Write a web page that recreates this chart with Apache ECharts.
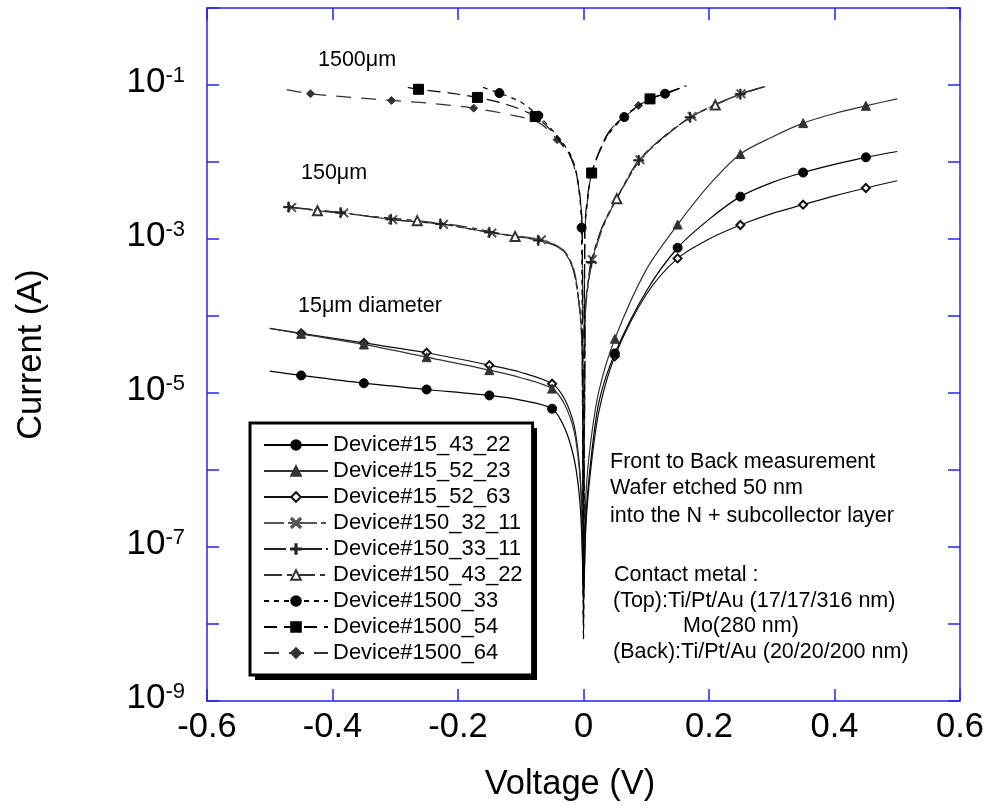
<!DOCTYPE html>
<html><head><meta charset="utf-8">
<script src="https://cdn.jsdelivr.net/npm/echarts/dist/echarts.min.js"></script>
<style>html,body{margin:0;padding:0;background:#fff}#c{width:989px;height:807px}</style>
</head><body><div id="c"></div>
<script>
const FONT = '"Liberation Sans", Arial, Helvetica, sans-serif';
const AX = '#2424f0';

// ---- Data (Voltage in V, Current in A); M = indices of points carrying a marker ----
const d15_43_22_V = [-0.5,-0.45,-0.35,-0.25,-0.15,-0.1,-0.05,-0.03,-0.015,-0.007,-0.003,0,0.004,0.012,0.025,0.05,0.1,0.15,0.2,0.25,0.3,0.35,0.4,0.45,0.5];
const d15_43_22_I = [1.92e-5,1.69e-5,1.34e-5,1.11e-5,9.3e-6,8.1e-6,6.25e-6,3.5e-6,1.4e-6,5.0e-7,1.6e-7,2.5e-8,2.5e-7,1.4e-6,7.9e-6,3.27e-5,2.1e-4,7.7e-4,1.8e-3,3.55e-3,5.4e-3,7.3e-3,9.3e-3,1.15e-2,1.37e-2];
const d15_43_22_M = [1,2,3,4,6,15,17,19,21,23];

const d15_52_23_V = [-0.5,-0.45,-0.35,-0.25,-0.15,-0.1,-0.05,-0.03,-0.015,-0.007,-0.003,0,0.004,0.012,0.025,0.05,0.1,0.15,0.2,0.25,0.3,0.35,0.4,0.45,0.5];
const d15_52_23_I = [6.9e-5,5.87e-5,4.27e-5,2.92e-5,1.98e-5,1.58e-5,1.14e-5,7.1e-6,3.2e-6,1.1e-6,3.2e-7,3.2e-8,5.0e-7,2.5e-6,1.1e-5,5.06e-5,4.0e-4,1.54e-3,5.0e-3,1.27e-2,2.1e-2,3.2e-2,4.27e-2,5.37e-2,6.62e-2];
const d15_52_23_M = [1,2,3,4,6,15,17,19,21,23];

const d15_52_63_V = [-0.5,-0.45,-0.35,-0.25,-0.15,-0.1,-0.05,-0.03,-0.015,-0.007,-0.003,0,0.004,0.012,0.025,0.05,0.1,0.15,0.2,0.25,0.3,0.35,0.4,0.45,0.5];
const d15_52_63_I = [6.9e-5,5.96e-5,4.47e-5,3.33e-5,2.3e-5,1.86e-5,1.32e-5,8.3e-6,3.8e-6,1.26e-6,3.5e-7,2.0e-8,2.0e-7,1.1e-6,6.0e-6,3.0e-5,1.9e-4,5.6e-4,1.0e-3,1.52e-3,2.14e-3,2.79e-3,3.63e-3,4.6e-3,5.71e-3];
const d15_52_63_M = [1,2,3,4,6,15,17,19,21,23];

const d150_32_11_V = [-0.465,-0.382,-0.304,-0.223,-0.146,-0.067,-0.032,-0.016,-0.008,-0.004,-0.002,0,0.003,0.007,0.014,0.03,0.053,0.09,0.13,0.173,0.21,0.251,0.288];
const d150_32_11_I = [2.57e-3,2.18e-3,1.78e-3,1.55e-3,1.2e-3,9.8e-4,7.2e-4,4.2e-4,1.78e-4,7.9e-5,3.2e-5,2.5e-8,1.12e-4,2.5e-4,5.4e-4,1.41e-3,3.34e-3,1.07e-2,2.19e-2,3.9e-2,5.5e-2,7.7e-2,9.55e-2];
const d150_32_11_M = [0,1,2,3,4,5,14,17,19,21];

const d150_33_11_V = [-0.47,-0.387,-0.307,-0.228,-0.15,-0.072,-0.035,-0.018,-0.009,-0.004,-0.002,0,0.003,0.007,0.012,0.03,0.053,0.088,0.13,0.17,0.21,0.25,0.285];
const d150_33_11_I = [2.6e-3,2.2e-3,1.8e-3,1.57e-3,1.22e-3,9.6e-4,7.4e-4,4.4e-4,1.9e-4,8.5e-5,3.5e-5,2.8e-8,1.2e-4,2.7e-4,5.0e-4,1.45e-3,3.4e-3,1.05e-2,2.2e-2,3.8e-2,5.6e-2,7.6e-2,9.4e-2];
const d150_33_11_M = [0,1,2,3,4,5,14,17,19,21];

const d150_43_22_V = [-0.475,-0.424,-0.345,-0.265,-0.19,-0.109,-0.06,-0.032,-0.016,-0.008,-0.004,-0.002,0,0.003,0.007,0.014,0.03,0.053,0.09,0.13,0.17,0.21,0.25,0.29];
const d150_43_22_I = [2.63e-3,2.33e-3,2.0e-3,1.73e-3,1.45e-3,1.08e-3,9.3e-4,6.9e-4,4.0e-4,1.66e-4,7.1e-5,2.8e-5,2.0e-8,1.05e-4,2.4e-4,5.0e-4,1.35e-3,3.34e-3,1.05e-2,2.14e-2,3.8e-2,5.5e-2,7.6e-2,9.5e-2];
const d150_43_22_M = [1,3,5,17,21];

const d1500_33_V = [-0.16,-0.134,-0.1,-0.072,-0.045,-0.021,-0.011,-0.006,-0.003,0,0.002,0.005,0.013,0.03,0.045,0.065,0.09,0.11,0.13,0.164];
const d1500_33_I = [9.3e-2,7.85e-2,6.0e-2,4.0e-2,2.34e-2,1.26e-2,7.1e-3,3.5e-3,1.4e-3,6.3e-9,1.0e-3,2.5e-3,7.1e-3,1.66e-2,2.6e-2,3.83e-2,5.5e-2,6.8e-2,7.7e-2,9.8e-2];
const d1500_33_M = [1,3,8,15,18];

const d1500_54_V = [-0.28,-0.263,-0.215,-0.169,-0.12,-0.077,-0.045,-0.021,-0.011,-0.005,-0.002,0,0.002,0.005,0.013,0.032,0.045,0.065,0.085,0.106,0.13,0.16];
const d1500_54_I = [9.3e-2,8.8e-2,7.9e-2,6.9e-2,5.5e-2,3.9e-2,2.24e-2,1.2e-2,6.8e-3,3.3e-3,1.26e-3,1.0e-8,1.26e-3,2.8e-3,7.2e-3,1.86e-2,2.75e-2,3.9e-2,5.2e-2,6.6e-2,7.8e-2,9.5e-2];
const d1500_54_M = [1,3,5,14,19];

const d1500_64_V = [-0.473,-0.435,-0.37,-0.306,-0.24,-0.175,-0.11,-0.07,-0.042,-0.021,-0.011,-0.005,-0.002,0,0.002,0.005,0.013,0.032,0.045,0.065,0.0876,0.106,0.13,0.16];
const d1500_64_I = [8.7e-2,7.7e-2,6.9e-2,6.3e-2,5.75e-2,5.0e-2,4.0e-2,3.2e-2,1.95e-2,1.17e-2,6.5e-3,3.2e-3,1.26e-3,8e-9,1.1e-3,2.5e-3,7.2e-3,1.78e-2,2.75e-2,3.8e-2,5.4e-2,6.5e-2,7.6e-2,9.5e-2];
const d1500_64_M = [1,3,5,8,20];

const xTicks = [-0.6,-0.4,-0.2,0,0.2,0.4,0.6];
const seriesNames = ['Device#15_43_22','Device#15_52_23','Device#15_52_63','Device#150_32_11','Device#150_33_11','Device#150_43_22','Device#1500_33','Device#1500_54','Device#1500_64'];

const SYM_X = 'path://M0,1L1,0L5,4L9,0L10,1L6,5L10,9L9,10L5,6L1,10L0,9L4,5Z';
const SYM_PLUS = 'path://M4.4,0H5.6V4.4H10V5.6H5.6V10H4.4V5.6H0V4.4H4.4Z';

function mk(name, V, I, M, sym, size, color, dash, z) {
  return {
    name: name, type: 'line',
    data: V.map((v, i) => M.indexOf(i) >= 0 ? {value: [v, I[i]]} : {value: [v, I[i]], symbol: 'none'}),
    symbol: sym, symbolSize: size, showSymbol: true, showAllSymbol: true,
    smooth: 0.3,
    lineStyle: {color: color, width: 1.2, type: dash},
    itemStyle: {color: color, borderColor: color, borderWidth: 1},
    z: z, animation: false, emphasis: {disabled: true}, clip: true
  };
}

const series = [
  mk(seriesNames[0], d15_43_22_V, d15_43_22_I, d15_43_22_M, 'circle', 9, '#000', 'solid', 5),
  mk(seriesNames[1], d15_52_23_V, d15_52_23_I, d15_52_23_M, 'triangle', 9, '#333', 'solid', 4),
  mk(seriesNames[2], d15_52_63_V, d15_52_63_I, d15_52_63_M, 'emptyDiamond', 8, '#111', 'solid', 3),
  mk(seriesNames[3], d150_32_11_V, d150_32_11_I, d150_32_11_M, SYM_X, 9, '#555', [20,4,5,4], 3),
  mk(seriesNames[4], d150_33_11_V, d150_33_11_I, d150_33_11_M, SYM_PLUS, 10, '#222', [22,4,6,4], 3),
  mk(seriesNames[5], d150_43_22_V, d150_43_22_I, d150_43_22_M, 'emptyTriangle', 9, '#333', [18,5,5,5], 3),
  mk(seriesNames[6], d1500_33_V, d1500_33_I, d1500_33_M, 'circle', 9, '#000', [5,5], 4),
  mk(seriesNames[7], d1500_54_V, d1500_54_I, d1500_54_M, 'rect', 10, '#000', [13,7], 4),
  mk(seriesNames[8], d1500_64_V, d1500_64_I, d1500_64_M, 'diamond', 8, '#333', [15,10], 3)
];

function txt(t, x, y) {
  return {type: 'text', x: x, y: y, z: 100,
    style: {text: t, fill: '#000', fontSize: 21.5, fontFamily: FONT, align: 'left', verticalAlign: 'middle'}};
}

const axisCommonX = {
  type: 'value', min: xTicks[0], max: xTicks[xTicks.length - 1], interval: 0.2,
  axisLine: {show: true, onZero: false, lineStyle: {color: AX, width: 1.5}},
  axisTick: {show: true, inside: true, length: 12, lineStyle: {color: AX, width: 1.5}},
  splitLine: {show: false}
};
const axisCommonY = {
  type: 'log', logBase: 10, min: 1e-9, max: 1, splitNumber: 9,
  axisLine: {show: true, onZero: false, lineStyle: {color: AX, width: 1.5}},
  axisTick: {show: true, inside: true, length: 12, lineStyle: {color: AX, width: 1.5}},
  splitLine: {show: false}
};

const chart = echarts.init(document.getElementById('c'), null, {renderer: 'canvas'});
chart.setOption({
  backgroundColor: '#fff',
  animation: false,
  grid: {left: 207, right: 29, top: 8, bottom: 105, containLabel: false},
  xAxis: [
    Object.assign({}, axisCommonX, {position: 'bottom',
      axisLabel: {show: true, color: '#000', fontSize: 34.5, fontFamily: FONT, margin: 9},
      name: 'Voltage (V)', nameLocation: 'middle', nameGap: 66,
      nameTextStyle: {color: '#000', fontSize: 34.5, fontFamily: FONT, padding: [0, 27, 0, 0]}}),
    Object.assign({}, axisCommonX, {position: 'top', axisLabel: {show: false}})
  ],
  yAxis: [
    Object.assign({}, axisCommonY, {position: 'left',
      axisLabel: {show: true, margin: 22, padding: [0, 0, 6, 0],
        formatter: function (v) {
          const e = Math.round(Math.log10(v));
          return (e % 2 !== 0) ? '{b|10}{s|' + e + '}' : '';
        },
        rich: {
          b: {fontSize: 35, fontFamily: FONT, color: '#000'},
          s: {fontSize: 22, fontFamily: FONT, color: '#000', verticalAlign: 'top'}
        }
      },
      name: 'Current (A)', nameLocation: 'middle', nameGap: 158,
      nameTextStyle: {color: '#000', fontSize: 34.5, fontFamily: FONT}}),
    Object.assign({}, axisCommonY, {position: 'right', axisLabel: {show: false}})
  ],
  legend: {
    orient: 'vertical', left: 250, top: 423, z: 10,
    padding: [11, 10, 11, 13], itemGap: 4, itemWidth: 64, itemHeight: 12,
    backgroundColor: '#fff', borderColor: '#000', borderWidth: 3, borderRadius: 0,
    textStyle: {fontFamily: FONT, fontSize: 22, color: '#000', lineHeight: 22},
    selectedMode: false, data: seriesNames
  },
  graphic: [
    {type: 'rect', z: 5, shape: {x: 255, y: 428, width: 282, height: 252}, style: {fill: '#000'}},
    txt('1500\u03bcm', 318, 60),
    txt('150\u03bcm', 301, 173),
    txt('15\u03bcm diameter', 298, 306),
    txt('Front to Back measurement', 610, 462),
    txt('Wafer etched 50 nm', 610, 488),
    txt('into the N + subcollector layer', 610, 515.7),
    txt('Contact metal :', 614, 575),
    txt('(Top):Ti/Pt/Au (17/17/316 nm)', 613, 600.7),
    txt('Mo(280 nm)', 683, 626),
    txt('(Back):Ti/Pt/Au (20/20/200 nm)', 613, 651.7)
  ],
  series: series
});
</script>
</body></html>
